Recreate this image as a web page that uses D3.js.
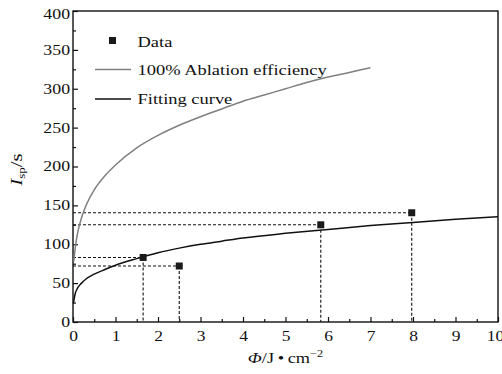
<!DOCTYPE html>
<html>
<head>
<meta charset="utf-8">
<script src="https://cdn.jsdelivr.net/npm/d3@7/dist/d3.min.js"></script>
<style>
  body { margin: 0; background: #fff; }
  svg text { font-family: "Liberation Serif", "DejaVu Serif", serif; fill: #111; }
</style>
</head>
<body>
<div id="chart"></div>
<script>
const w = 502,
      h = 374,
      margin = { top: 11, right: 4, bottom: 52, left: 73 };

// measured points
const pointX = [1.65, 2.5, 5.83, 7.97];
const pointY = [83, 72, 125, 140.5];

// 100% ablation efficiency curve
const fullX = [0.02, 0.05, 0.1, 0.2, 0.3, 0.5, 0.75, 1, 1.5, 2, 2.5, 3, 3.5, 4, 4.5, 5, 5.5, 6, 6.5, 7];
const fullY = [78, 94, 112, 134, 149, 170, 188, 202, 224, 240, 253, 264, 274, 284, 292, 300, 308, 315, 321, 327];

// fitting curve
const fitX = [0.01, 0.05, 0.1, 0.2, 0.3, 0.5, 0.75, 1, 1.5, 2, 2.5, 3, 3.5, 4, 5, 6, 7, 8, 9, 10];
const fitY = [24, 36, 43, 50, 55, 61.5, 67.5, 73, 81.5, 89, 95, 100, 104, 108, 114, 119, 124, 128, 132, 135.5];

const xTicks = [0, 1, 2, 3, 4, 5, 6, 7, 8, 9, 10];
const xMinor = [0.5, 1.5, 2.5, 3.5, 4.5, 5.5, 6.5, 7.5, 8.5, 9.5];
const yTicks = [0, 50, 100, 150, 200, 250, 300, 350, 400];
const yMinor = [25, 75, 125, 175, 225, 275, 325, 375];

const legendLabels = ['Data', '100% Ablation efficiency', 'Fitting curve'];

const grey = '#808080',
      ink = '#111';

// the source image is stretched sideways, so text is widened to match
function widen(sel, k) {
  sel.each(function() {
    const len = this.getComputedTextLength();
    d3.select(this).attr('textLength', len * k).attr('lengthAdjust', 'spacingAndGlyphs');
  });
}

const svg = d3.select('#chart')
  .append('svg')
  .attr('width', w)
  .attr('height', h)
  .attr('font-family', '"Liberation Serif", serif');

const x = d3.scaleLinear().domain([0, 10]).range([margin.left, w - margin.right]);
const y = d3.scaleLinear().domain([0, 400]).range([h - margin.bottom, margin.top]);

// axes with inward ticks
const xAxis = svg.append('g')
  .attr('transform', `translate(0, ${y(0)})`)
  .call(d3.axisBottom(x).tickValues(xTicks).tickSizeInner(-5).tickSizeOuter(0).tickPadding(9));
svg.append('g')
  .attr('transform', `translate(0, ${y(0)})`)
  .call(d3.axisBottom(x).tickValues(xMinor).tickSizeInner(-3).tickSizeOuter(0).tickFormat(''));

const yAxis = svg.append('g')
  .attr('transform', `translate(${x(0)}, 0)`)
  .call(d3.axisLeft(y).tickValues(yTicks).tickSizeInner(-5).tickSizeOuter(0).tickPadding(3));
svg.append('g')
  .attr('transform', `translate(${x(0)}, 0)`)
  .call(d3.axisLeft(y).tickValues(yMinor).tickSizeInner(-3).tickSizeOuter(0).tickFormat(''));

svg.selectAll('.domain').remove();
svg.selectAll('.tick line').attr('stroke', ink).attr('stroke-width', 1.2);
svg.selectAll('.tick text')
  .attr('font-family', '"Liberation Serif", serif')
  .style('font-size', '14px')
  .attr('fill', ink);

xAxis.selectAll('.tick text').call(widen, 1.25);
// last label sits on the window edge, pull it in a little
xAxis.selectAll('.tick text').filter(d => d === 10).attr('x', -3);
yAxis.selectAll('.tick text').call(widen, 1.27);
yAxis.selectAll('.tick text').filter(d => d === 400).attr('dy', '0.55em');

// frame
svg.append('rect')
  .attr('x', x(0))
  .attr('y', y(400))
  .attr('width', x(10) - x(0))
  .attr('height', y(0) - y(400))
  .attr('fill', 'none')
  .attr('stroke', ink)
  .attr('stroke-width', 1.4);

// dashed guide lines
const points = pointX.map((px, i) => ({ x: px, y: pointY[i] }));

svg.selectAll('.hguide')
  .data(points)
  .enter()
  .append('line')
  .attr('class', 'hguide')
  .attr('x1', x(0))
  .attr('x2', d => x(d.x))
  .attr('y1', d => y(d.y))
  .attr('y2', d => y(d.y))
  .attr('stroke', ink)
  .attr('stroke-width', 1.1)
  .attr('stroke-dasharray', '3,2');

svg.selectAll('.vguide')
  .data(points)
  .enter()
  .append('line')
  .attr('class', 'vguide')
  .attr('x1', d => x(d.x))
  .attr('x2', d => x(d.x))
  .attr('y1', d => y(d.y))
  .attr('y2', y(0))
  .attr('stroke', ink)
  .attr('stroke-width', 1.1)
  .attr('stroke-dasharray', '3,2');

// curves
const line = d3.line()
  .x(d => x(d[0]))
  .y(d => y(d[1]))
  .curve(d3.curveMonotoneX);

svg.append('path')
  .datum(fullX.map((v, i) => [v, fullY[i]]))
  .attr('d', line)
  .attr('fill', 'none')
  .attr('stroke', grey)
  .attr('stroke-width', 1.5);

svg.append('path')
  .datum(fitX.map((v, i) => [v, fitY[i]]))
  .attr('d', line)
  .attr('fill', 'none')
  .attr('stroke', ink)
  .attr('stroke-width', 1.5);

// data markers
svg.selectAll('.dot')
  .data(points)
  .enter()
  .append('rect')
  .attr('class', 'dot')
  .attr('x', d => x(d.x) - 3.5)
  .attr('y', d => y(d.y) - 3.5)
  .attr('width', 7)
  .attr('height', 7)
  .attr('fill', '#1a1a1a');

// legend
const legend = svg.append('g');
legend.append('rect')
  .attr('x', 109)
  .attr('y', 37)
  .attr('width', 7)
  .attr('height', 7)
  .attr('fill', '#1a1a1a');
legend.append('line')
  .attr('x1', 95).attr('x2', 131)
  .attr('y1', 69.5).attr('y2', 69.5)
  .attr('stroke', grey)
  .attr('stroke-width', 1.5);
legend.append('line')
  .attr('x1', 95).attr('x2', 131)
  .attr('y1', 99).attr('y2', 99)
  .attr('stroke', ink)
  .attr('stroke-width', 1.5);

legend.selectAll('.legend-label')
  .data(legendLabels)
  .enter()
  .append('text')
  .attr('class', 'legend-label')
  .attr('x', 137.5)
  .attr('y', (d, i) => 46.5 + i * 28.5)
  .style('font-size', '15px')
  .text(d => d)
  .call(widen, 1.23);

// axis titles
const xTitle = svg.append('text')
  .attr('x', (x(0) + x(10)) / 2)
  .attr('y', 363)
  .attr('text-anchor', 'middle')
  .style('font-size', '15px');
xTitle.append('tspan').style('font-style', 'italic').text('\u03A6');
xTitle.append('tspan').text('/J\u2009\u2022\u2009cm');
xTitle.append('tspan').attr('dy', -6).style('font-size', '10px').text('\u22122');
xTitle.call(widen, 1.22);

const yTitle = svg.append('text')
  .attr('transform', `translate(22, ${(y(0) + y(400)) / 2 + 3}) rotate(-90)`)
  .attr('text-anchor', 'middle')
  .style('font-size', '16px');
yTitle.append('tspan').style('font-style', 'italic').text('I');
yTitle.append('tspan').attr('dy', 3).style('font-size', '10px').text('sp');
yTitle.append('tspan').attr('dy', -3).text('/s');
yTitle.call(widen, 1.3);
</script>
</body>
</html>
